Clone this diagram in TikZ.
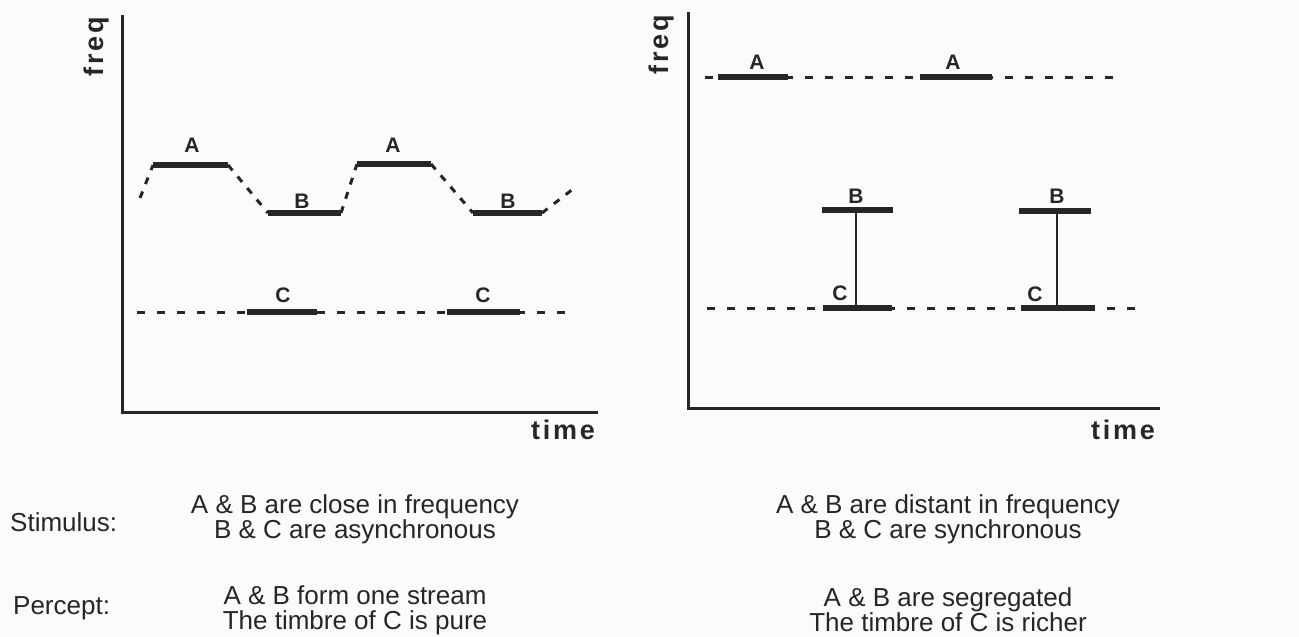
\documentclass[tikz,border=0pt]{standalone}
\usepackage{fontspec}
\setmainfont{Liberation Sans}
\definecolor{ink}{RGB}{38,38,38}
\definecolor{paper}{RGB}{251,251,249}
\begin{document}
\begin{tikzpicture}[x=1pt,y=-1pt,
  axis/.style={draw=ink, line width=3pt, line join=miter},
  tone/.style={draw=ink, line width=5.5pt},
  link/.style={draw=ink, line width=3pt, dash pattern=on 7pt off 8pt},
  hold/.style={draw=ink, line width=3pt, dash pattern=on 8pt off 12pt},
  stem/.style={draw=ink, line width=2pt},
  lab/.style={font=\fontsize{21}{21}\selectfont\bfseries, text=ink, inner sep=0pt},
  axlab/.style={font=\fontsize{27}{27}\selectfont\bfseries\addfontfeatures{LetterSpace=10}, text=ink, inner sep=0pt},
  capt/.style={font=\fontsize{26}{25}\selectfont, align=center, text=ink, inner sep=0pt},
  side/.style={font=\fontsize{26}{25}\selectfont, text=ink, inner sep=0pt, anchor=west}]
\fill[paper] (0,0) rectangle (1299,637);
\useasboundingbox (0,0) rectangle (1299,637);

% ---------- left panel ----------
\coordinate (lt) at (122,15);
\coordinate (lo) at (122,412);
\coordinate (lr) at (598,412);
\draw[axis] (lt) -- (lo) -- (lr);
\node[axlab, rotate=90] (lfreq) at (97,47) {freq};
\node[axlab] (ltime) at (563,430) {time};

\coordinate (a1s) at (153,165); \coordinate (a1e) at (228,165);
\coordinate (b1s) at (268,213); \coordinate (b1e) at (341,213);
\coordinate (a2s) at (357,164); \coordinate (a2e) at (431,164);
\coordinate (b2s) at (473,213); \coordinate (b2e) at (542,213);
\coordinate (ls) at (140,198); \coordinate (le) at (573,189);
\coordinate (lc0) at (137,312); \coordinate (lc9) at (569,312);
\coordinate (c1s) at (247,312); \coordinate (c1e) at (317,312);
\coordinate (c2s) at (447,312); \coordinate (c2e) at (520,312);

\draw[link] (ls) -- (a1s);
\draw[link] (a1e) -- (b1s);
\draw[link] (b1e) -- (a2s);
\draw[link] (a2e) -- (b2s);
\draw[link] (b2e) -- (le);
\draw[hold] (lc0) -- (lc9);

\draw[tone] (a1s) -- (a1e);
\draw[tone] (b1s) -- (b1e);
\draw[tone] (a2s) -- (a2e);
\draw[tone] (b2s) -- (b2e);
\draw[tone] (c1s) -- (c1e);
\draw[tone] (c2s) -- (c2e);

\node[lab] (la1) at (192,145) {A};
\node[lab] (lb1) at (302,201) {B};
\node[lab] (la2) at (393,145) {A};
\node[lab] (lb2) at (508,201) {B};
\node[lab] (lc1) at (283,295) {C};
\node[lab] (lc2) at (483,295) {C};

% ---------- right panel ----------
\coordinate (rt) at (688,12);
\coordinate (ro) at (688,408);
\coordinate (rr) at (1160,408);
\draw[axis] (rt) -- (ro) -- (rr);
\node[axlab, rotate=90] (rfreq) at (662,45) {freq};
\node[axlab] (rtime) at (1123,430) {time};

\coordinate (ra0) at (705,77); \coordinate (ra9) at (1117,77);
\coordinate (ra1s) at (718,77); \coordinate (ra1e) at (788,77);
\coordinate (ra2s) at (920,77); \coordinate (ra2e) at (992,77);
\coordinate (rb1s) at (822,210); \coordinate (rb1e) at (893,210);
\coordinate (rb2s) at (1019,211); \coordinate (rb2e) at (1091,211);
\coordinate (rc0) at (707,308); \coordinate (rc9) at (1140,308);
\coordinate (rc1s) at (823,308); \coordinate (rc1e) at (892,308);
\coordinate (rc2s) at (1021,308); \coordinate (rc2e) at (1095,308);
\coordinate (rs1t) at (856,210); \coordinate (rs1b) at (856,308);
\coordinate (rs2t) at (1057,211); \coordinate (rs2b) at (1057,308);

\draw[hold] (ra0) -- (ra9);
\draw[hold] (rc0) -- (rc9);
\draw[stem] (rs1t) -- (rs1b);
\draw[stem] (rs2t) -- (rs2b);
\draw[tone] (ra1s) -- (ra1e);
\draw[tone] (ra2s) -- (ra2e);
\draw[tone] (rb1s) -- (rb1e);
\draw[tone] (rb2s) -- (rb2e);
\draw[tone] (rc1s) -- (rc1e);
\draw[tone] (rc2s) -- (rc2e);

\node[lab] (ra1) at (757,62) {A};
\node[lab] (ra2) at (953,62) {A};
\node[lab] (rb1) at (856,196) {B};
\node[lab] (rb2) at (1057,196) {B};
\node[lab] (rc1) at (840,293) {C};
\node[lab] (rc2) at (1035,294) {C};

% ---------- captions ----------
\node[side] (stim) at (10,522) {Stimulus:};
\node[side] (perc) at (13,608) {Percept:};
\node[capt] (lstim) at (355,519) {A \& B are close in frequency\\B \& C are asynchronous};
\node[capt] (lperc) at (355,610) {A \& B form one stream\\The timbre of C is pure};
\node[capt] (rstim) at (948,519) {A \& B are distant in frequency\\B \& C are synchronous};
\node[capt] (rperc) at (948,610) {A \& B are segregated\\The timbre of C is richer};
\end{tikzpicture}
\end{document}
